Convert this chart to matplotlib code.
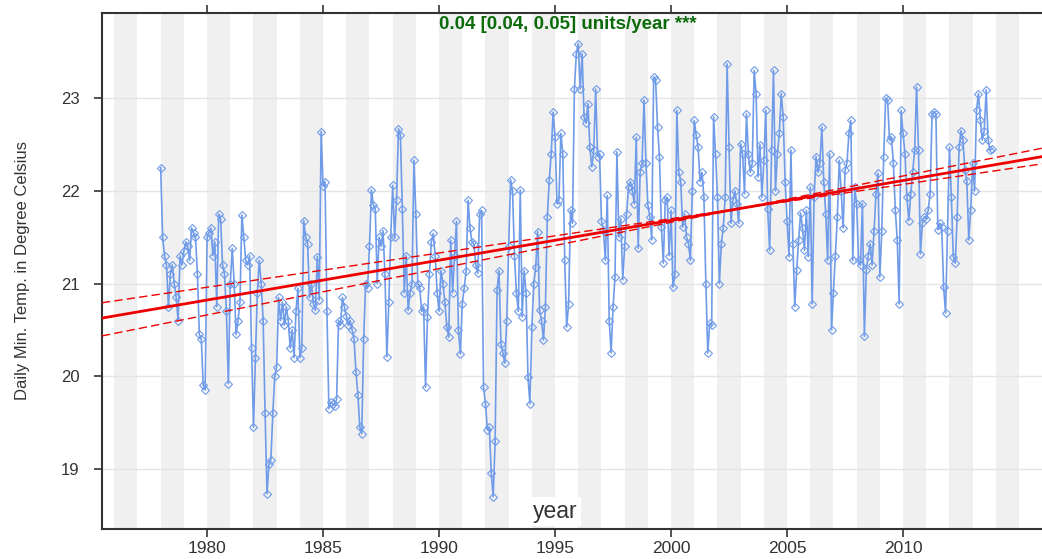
import numpy as np
import matplotlib
matplotlib.use("Agg")
import matplotlib.pyplot as plt

plt.rcParams['font.family'] = ['Liberation Sans', 'DejaVu Sans']

# monthly mean of daily minimum temperature (deg C), one row per year, Jan..Dec
first_year = 1978
tmin_monthly = [
    [22.25, 21.5, 21.3, 21.2, 20.75, 21.1, 21.2, 21.0, 20.85, 20.6, 21.3, 21.2],     # 1978
    [21.35, 21.45, 21.4, 21.25, 21.6, 21.55, 21.5, 21.1, 20.45, 20.4, 19.9, 19.85],  # 1979
    [21.5, 21.55, 21.6, 21.3, 21.45, 20.75, 21.75, 21.7, 21.2, 21.1, 20.7, 19.92],   # 1980
    [21.0, 21.38, 21.0, 20.45, 20.6, 20.8, 21.74, 21.5, 21.25, 21.2, 21.3, 20.3],    # 1981
    [19.45, 20.2, 20.9, 21.25, 21.0, 20.6, 19.6, 18.73, 19.05, 19.1, 19.6, 20.0],    # 1982
    [20.1, 20.85, 20.6, 20.8, 20.55, 20.75, 20.6, 20.3, 20.5, 20.2, 20.7, 20.95],    # 1983
    [20.2, 20.3, 21.68, 21.5, 21.43, 20.85, 21.0, 20.78, 20.71, 21.29, 20.82, 22.64],  # 1984
    [22.05, 22.1, 20.7, 19.65, 19.72, 19.7, 19.68, 19.75, 20.6, 20.55, 20.85, 20.75],  # 1985
    [20.65, 20.55, 20.6, 20.5, 20.4, 20.05, 19.8, 19.45, 19.38, 20.4, 21.0, 20.95],  # 1986
    [21.4, 22.01, 21.85, 21.8, 21.0, 21.5, 21.4, 21.57, 21.1, 20.21, 20.8, 21.5],    # 1987
    [22.06, 21.5, 21.9, 22.67, 22.6, 21.8, 20.9, 21.3, 20.71, 20.9, 21.0, 22.33],    # 1988
    [21.75, 21.0, 20.95, 20.7, 20.75, 19.88, 20.64, 21.1, 21.45, 21.54, 21.3, 20.9],  # 1989
    [20.7, 21.14, 21.0, 20.8, 20.53, 20.42, 21.47, 20.9, 21.3, 21.67, 20.5, 20.24],  # 1990
    [20.78, 20.95, 21.14, 21.9, 21.6, 21.45, 21.43, 21.2, 21.11, 21.75, 21.79, 19.88],  # 1991
    [19.7, 19.42, 19.45, 18.95, 18.7, 19.3, 20.93, 21.14, 20.35, 20.25, 20.14, 20.6],  # 1992
    [21.4, 22.12, 22.0, 21.3, 20.9, 20.7, 22.01, 20.64, 21.14, 20.9, 19.99, 19.7],   # 1993
    [20.53, 21.0, 21.18, 21.56, 20.71, 20.6, 20.39, 20.75, 21.72, 22.12, 22.4, 22.85],  # 1994
    [22.58, 21.86, 21.9, 22.62, 22.4, 21.25, 20.53, 20.78, 21.79, 21.65, 23.1, 23.48],  # 1995
    [23.59, 23.1, 23.48, 22.8, 22.73, 22.94, 22.47, 22.26, 22.44, 23.1, 22.37, 22.4],  # 1996
    [21.68, 21.58, 21.25, 21.95, 20.6, 20.25, 20.75, 21.07, 22.42, 21.5, 21.7, 21.04],  # 1997
    [21.4, 21.75, 22.04, 22.1, 22.0, 21.86, 22.58, 21.38, 22.2, 22.3, 22.98, 22.3],  # 1998
    [21.85, 21.72, 21.47, 23.23, 23.2, 22.69, 22.37, 21.61, 21.22, 21.9, 21.93, 21.3],  # 1999
    [21.79, 20.96, 21.1, 22.87, 22.2, 22.1, 21.61, 21.75, 21.5, 21.43, 21.25, 22.0],  # 2000
    [22.76, 22.6, 22.47, 22.1, 22.2, 21.93, 21.0, 20.25, 20.57, 20.55, 22.8, 22.4],  # 2001
    [21.93, 21.0, 21.43, 21.6, 21.93, 23.37, 22.47, 21.65, 21.9, 22.0, 21.86, 21.65],  # 2002
    [22.51, 22.4, 21.97, 22.83, 22.4, 22.2, 22.3, 23.3, 23.05, 22.15, 22.5, 21.93],  # 2003
    [22.33, 22.87, 21.8, 21.36, 22.44, 23.3, 22.0, 22.4, 22.62, 23.05, 22.8, 22.1],  # 2004
    [21.68, 21.29, 22.44, 21.43, 20.75, 21.15, 21.47, 21.76, 21.6, 21.36, 21.79, 21.29],  # 2005
    [22.04, 20.78, 21.93, 22.37, 22.2, 22.3, 22.69, 22.1, 21.75, 21.25, 22.4, 20.5],  # 2006
    [20.9, 21.3, 21.72, 22.33, 22.0, 21.6, 22.22, 22.3, 22.62, 22.76, 21.25, 22.04],  # 2007
    [21.86, 21.25, 21.2, 21.86, 20.43, 21.15, 21.3, 21.43, 21.2, 21.57, 21.97, 22.19],  # 2008
    [21.07, 21.57, 22.37, 23.0, 22.98, 22.55, 22.58, 22.3, 21.79, 21.47, 20.78, 22.87],  # 2009
    [22.62, 22.4, 21.93, 21.68, 21.97, 22.2, 22.44, 23.12, 22.44, 21.32, 21.65, 21.72],  # 2010
    [21.7, 21.79, 21.97, 22.83, 22.85, 22.83, 21.58, 21.65, 21.61, 20.96, 20.68, 21.57],  # 2011
    [22.47, 21.93, 21.29, 21.22, 21.72, 22.47, 22.65, 22.55, 22.22, 22.11, 21.47, 21.79],  # 2012
    [22.3, 22.0, 22.87, 23.05, 22.76, 22.55, 22.65, 23.09, 22.55, 22.44, 22.45],  # 2013 (to Nov)
]

# Theil-Sen trend as printed on the chart (units/year) and where the CI lines cross
slope_est = 0.043
slope_lower = 0.037
slope_upper = 0.050
pivot_year = 2003.0
trend_label = "0.04 [0.04, 0.05] units/year ***"

x_ticks = [1980, 1985, 1990, 1995, 2000, 2005, 2010]
y_ticks = [19, 20, 21, 22, 23]
x_range = (1975.47, 2015.99)
y_range = (18.35, 23.92)

values = np.concatenate([np.array(r, dtype=float) for r in tmin_monthly])
t = first_year + np.arange(values.size) / 12.0

fig = plt.figure(figsize=(10.42, 5.59), dpi=100)
ax = fig.add_axes([102 / 1042, 1 - 529 / 559, 1 - 102 / 1042, (529 - 13) / 559])

# alternating year shading
for yr in range(1976, 2016, 2):
    ax.axvspan(yr, yr + 1, color='#f0f0f0', lw=0, zorder=0)
for yv in y_ticks:
    ax.axhline(yv, color='#e4e4e4', lw=1, zorder=0.5)

ax.plot(t, values, color='#6f9be8', lw=1.2, marker='D', ms=4.2,
        mfc='none', mec='#6f9be8', mew=0.8, zorder=2)

# trend + confidence lines
intercept = np.median(values - slope_est * t)
y_pivot = intercept + slope_est * pivot_year
xx = np.array(x_range)
ax.plot(xx, y_pivot + slope_est * (xx - pivot_year), color='#ee0000', lw=2, zorder=3)
ax.plot(xx, y_pivot + slope_lower * (xx - pivot_year), color='#ee0000', lw=1, ls=(0, (6, 3)), zorder=3)
ax.plot(xx, y_pivot + slope_upper * (xx - pivot_year), color='#ee0000', lw=1, ls=(0, (6, 3)), zorder=3)

ax.set_xlim(x_range)
ax.set_ylim(y_range)
ax.set_xticks(x_ticks)
ax.set_yticks(y_ticks)
ax.tick_params(axis='x', which='both', top=True, bottom=True, labeltop=False,
               direction='out', length=6, width=1.2, color='#333333',
               labelsize=12.5, labelcolor='#333333', pad=2.5)
ax.tick_params(axis='y', direction='out', length=6, width=1.2, color='#333333',
               labelsize=12, labelcolor='#333333', pad=10)
for side in ['left', 'top', 'bottom']:
    ax.spines[side].set_color('#333333')
    ax.spines[side].set_linewidth(1.5)
ax.spines['right'].set_visible(False)

ax.set_ylabel("Daily Min. Temp. in Degree Celsius", fontsize=12, color='#333333', labelpad=22)
ax.text(0.482, 0.034, "year", transform=ax.transAxes, ha='center', va='center',
        fontsize=16.5, color='#333333',
        bbox=dict(boxstyle='square,pad=0.15', fc='white', ec='none'), zorder=5)
ax.text(0.496, 0.978, trend_label, transform=ax.transAxes, ha='center', va='center',
        fontsize=13.5, fontweight='bold', color='#0b6b0b', zorder=5)

fig.savefig("out.png", dpi=100)
